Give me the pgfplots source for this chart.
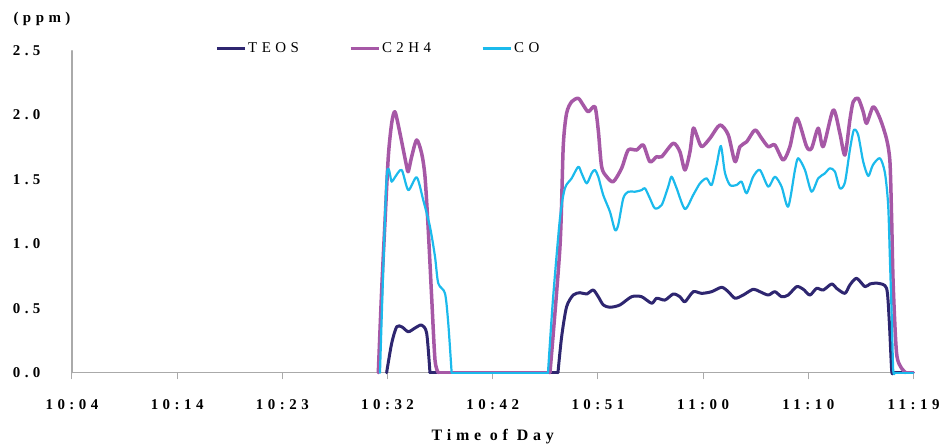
\documentclass[border=0pt]{standalone}
\usepackage{fontspec}
\setmainfont{Liberation Serif}
\newfontfamily\spfont[LetterSpace=30]{Liberation Serif}
\usepackage{pgfplots}
\pgfplotsset{compat=1.18}
\definecolor{teos}{RGB}{46,38,112}
\definecolor{ethene}{RGB}{166,88,166}
\definecolor{co}{RGB}{27,186,236}
\definecolor{axgray}{RGB}{170,170,170}
\begin{document}
\begin{tikzpicture}
\useasboundingbox (-72bp,-71.3bp) rectangle (871bp,372.7bp);
\begin{axis}[
  at={(0,0)}, anchor=south west,
  scale only axis, width=841.5bp, height=322bp,
  xmin=0, xmax=8, ymin=0, ymax=2.5,
  clip=false,
  axis x line*=bottom, axis y line*=left,
  axis line style={draw=axgray, line width=1.3bp},
  xtick={0,1,2,3,4,5,6,7,8},
  xticklabels={10:04,10:14,10:23,10:32,10:42,10:51,11:00,11:10,11:19},
  ytick={0,0.5,1,1.5,2,2.5},
  yticklabels={0.0,0.5,1.0,1.5,2.0,2.5},
  x tick style={draw=axgray, line width=1bp},
  y tick style={draw=none},
  tick align=outside, major tick length=6bp,
  ticklabel style={font=\spfont\bfseries\fontsize{15}{17}\selectfont},
  xticklabel style={yshift=-17bp},
  yticklabel style={xshift=-22bp},
  xlabel={Time of Day},
  xlabel style={at={(axis description cs:0.5,0)}, anchor=center, yshift=-64bp, font=\spfont\bfseries\fontsize{16}{18}\selectfont},
  ylabel={(ppm)},
  ylabel style={at={(axis description cs:0,1)}, rotate=-90, anchor=center, xshift=-30bp, yshift=32bp, font=\spfont\bfseries\fontsize{15}{17}\selectfont},
  legend columns=3,
  legend style={at={(axis description cs:0.170,1.008)}, anchor=west, draw=none, fill=none,
    font=\spfont\fontsize{15}{17}\selectfont, inner sep=0pt,
    /tikz/every even column/.append style={column sep=48bp}},
  legend image code/.code={\draw[#1, line width=3bp] (0bp,0bp) -- (28bp,0bp);},
  line join=round, line cap=round,
  sm/.style={smooth, tension=0.45},
]
% ---------- TEOS ----------
\addplot[teos, line width=3bp, sm] coordinates {
(2.991,0) (3.039,0.228) (3.087,0.357) (3.137,0.355) (3.197,0.318) (3.261,0.347)
(3.324,0.370) (3.372,0.306) (3.403,0)
};
\addlegendentry{TEOS}
\addplot[teos, line width=3bp, sharp plot, forget plot] coordinates {(3.403,0) (4.620,0)};
\addplot[teos, line width=3bp, sm, forget plot] coordinates {
(4.620,0) (4.655,0.280) (4.702,0.512) (4.765,0.603) (4.829,0.621) (4.893,0.611)
(4.955,0.642) (5.003,0.590) (5.051,0.526) (5.114,0.508) (5.209,0.526) (5.320,0.590)
(5.415,0.590) (5.511,0.539) (5.558,0.578) (5.637,0.564) (5.716,0.611) (5.779,0.590)
(5.827,0.551) (5.906,0.629) (5.986,0.616) (6.081,0.629) (6.176,0.663) (6.239,0.629)
(6.303,0.578) (6.381,0.603) (6.476,0.648) (6.540,0.629) (6.619,0.603) (6.682,0.629)
(6.746,0.590) (6.809,0.603) (6.889,0.668) (6.952,0.648) (7.015,0.603) (7.079,0.655)
(7.142,0.642) (7.222,0.689) (7.269,0.655) (7.348,0.616) (7.395,0.681) (7.459,0.733)
(7.538,0.668) (7.586,0.689) (7.665,0.694) (7.744,0.655) (7.769,0.409) (7.792,0.021)
(7.804,0)
};
\addplot[teos, line width=3bp, sharp plot, forget plot] coordinates {(7.804,0) (7.997,0)};
% ---------- C2H4 ----------
\addplot[ethene, line width=3.5bp, sm] coordinates {
(2.912,0) (2.944,0.642) (2.975,1.162) (3.007,1.677) (3.039,1.936) (3.070,2.026)
(3.118,1.859) (3.182,1.599) (3.197,1.561) (3.229,1.677) (3.277,1.807) (3.324,1.703)
(3.356,1.522) (3.387,1.108) (3.419,0.590) (3.451,0.099) (3.482,0)
};
\addlegendentry{C2H4}
\addplot[ethene, line width=3.5bp, sharp plot, forget plot] coordinates {(3.482,0) (4.544,0)};
\addplot[ethene, line width=3.5bp, sm, forget plot] coordinates {
(4.544,0) (4.639,0.978) (4.670,1.755) (4.702,2.014) (4.750,2.104) (4.813,2.130)
(4.860,2.078) (4.908,2.026) (4.971,2.065) (5.003,1.884) (5.035,1.599) (5.083,1.522)
(5.146,1.483) (5.225,1.587) (5.288,1.729) (5.368,1.729) (5.431,1.768) (5.494,1.638)
(5.558,1.677) (5.606,1.677) (5.716,1.781) (5.779,1.716) (5.827,1.574) (5.875,1.716)
(5.906,1.898) (5.938,1.846) (5.986,1.755) (6.065,1.820) (6.160,1.923) (6.239,1.846)
(6.303,1.638) (6.350,1.755) (6.414,1.793) (6.493,1.884) (6.556,1.820) (6.619,1.755)
(6.682,1.768) (6.761,1.651) (6.825,1.755) (6.892,1.975) (6.984,1.755) (7.031,1.742)
(7.094,1.898) (7.142,1.755) (7.237,2.040) (7.300,1.859) (7.348,1.690) (7.395,1.962)
(7.427,2.104) (7.474,2.130) (7.522,2.026) (7.554,1.936) (7.617,2.065) (7.681,1.975)
(7.744,1.814) (7.776,1.638) (7.792,1.199) (7.807,0.681) (7.839,0.151) (7.887,0.034)
(7.928,0)
};
\addplot[ethene, line width=3.5bp, sharp plot, forget plot] coordinates {(7.928,0) (7.997,0)};
% ---------- CO ----------
\addplot[co, line width=2.2bp, sm] coordinates {
(2.928,0) (2.991,1.509) (3.039,1.483) (3.070,1.517) (3.134,1.574) (3.197,1.418)
(3.277,1.517) (3.339,1.341) (3.403,1.134) (3.451,0.901) (3.482,0.694) (3.546,0.616)
(3.577,0.384) (3.609,0)
};
\addlegendentry{CO}
\addplot[co, line width=2.2bp, sharp plot, forget plot] coordinates {(3.609,0) (4.525,0)};
\addplot[co, line width=2.2bp, sm, forget plot] coordinates {
(4.525,0) (4.572,0.564) (4.639,1.199) (4.686,1.432) (4.750,1.509) (4.813,1.599)
(4.845,1.548) (4.893,1.470) (4.940,1.548) (4.971,1.574) (5.003,1.522) (5.050,1.380)
(5.114,1.250) (5.162,1.108) (5.193,1.147) (5.241,1.354) (5.288,1.405) (5.352,1.405)
(5.416,1.418) (5.447,1.432) (5.494,1.354) (5.542,1.276) (5.606,1.302) (5.668,1.444)
(5.700,1.522) (5.748,1.432) (5.827,1.271) (5.906,1.380) (5.970,1.470) (6.033,1.509)
(6.081,1.457) (6.128,1.613) (6.169,1.760) (6.207,1.554) (6.255,1.457) (6.318,1.457)
(6.366,1.483) (6.413,1.393) (6.476,1.522) (6.540,1.574) (6.619,1.444) (6.682,1.522)
(6.746,1.444) (6.809,1.289) (6.873,1.574) (6.904,1.665) (6.968,1.574) (7.031,1.405)
(7.094,1.509) (7.158,1.548) (7.205,1.587) (7.253,1.561) (7.300,1.432) (7.348,1.477)
(7.395,1.729) (7.433,1.884) (7.474,1.846) (7.522,1.638) (7.570,1.527) (7.614,1.613)
(7.681,1.665) (7.728,1.554) (7.759,1.302) (7.776,0.875) (7.792,0.461) (7.807,0.021)
(7.823,0)
};
\addplot[co, line width=2.2bp, sharp plot, forget plot] coordinates {(7.823,0) (7.997,0)};
\end{axis}
\end{tikzpicture}
\end{document}
